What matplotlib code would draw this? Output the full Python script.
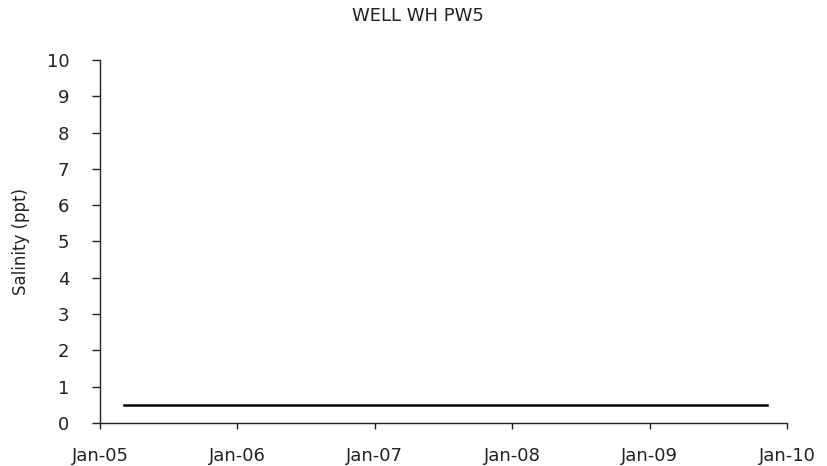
import numpy as np
import pandas as pd
import matplotlib
matplotlib.use("Agg")
import matplotlib.pyplot as plt
import matplotlib.dates as mdates

plt.rcParams['font.family'] = ['DejaVu Sans']

# salinity readings for well WH PW5
dates = pd.to_datetime(["2005-03-05", "2009-11-10"])
salinity = [0.5, 0.5]

fig = plt.figure(figsize=(8.28, 4.66), dpi=100)
ax = fig.add_axes([100/828, 1 - 423/466, 687/828, 363/466])

ax.plot(dates, salinity, color='black', linewidth=1.8)

ax.set_xlim(pd.Timestamp("2005-01-01"), pd.Timestamp("2010-01-01"))
ax.set_ylim(0, 10)
ax.set_yticks(range(0, 11))
ax.xaxis.set_major_locator(mdates.YearLocator())
ax.xaxis.set_major_formatter(mdates.DateFormatter("%b-%y"))

for s in ['top', 'right']:
    ax.spines[s].set_visible(False)
for s in ['left', 'bottom']:
    ax.spines[s].set_color('#222222')
    ax.spines[s].set_linewidth(1.0)

ax.tick_params(axis='y', length=6, width=1, pad=16, labelsize=13, colors='#222222')
ax.tick_params(axis='x', length=4, width=1, pad=13, labelsize=13, colors='#222222')
ax.set_ylabel("Salinity (ppt)", fontsize=12, labelpad=12, color='#222222')

fig.text(0.505, 0.966, "WELL WH PW5", ha='center', va='center', fontsize=13,
         color='#222222')

fig.savefig("out.png", dpi=100)
